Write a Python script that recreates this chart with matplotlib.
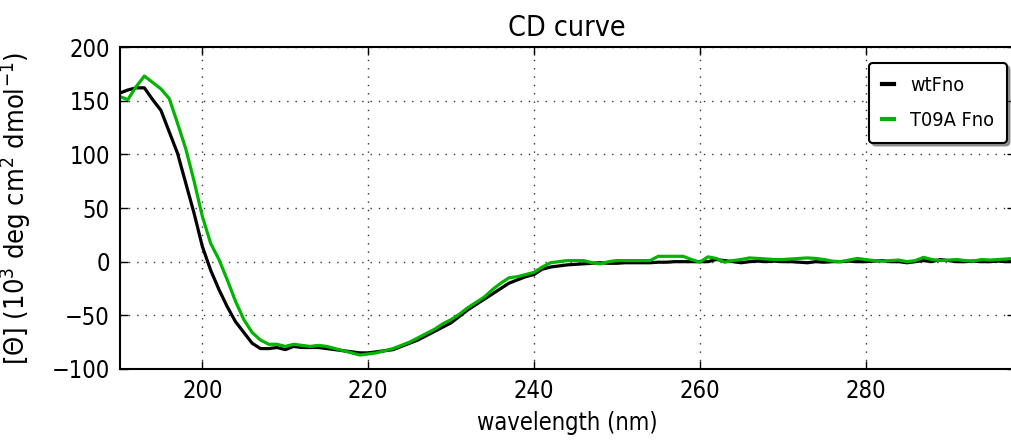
import matplotlib
matplotlib.use("Agg")
import matplotlib.pyplot as plt

# CD spectra (1 nm steps)
wavelength = list(range(190, 299))

wt_fno = [157, 160, 162, 162, 151, 141, 121, 101, 73, 45,
          14, -8, -26, -42, -56, -66, -76, -81, -81, -80,
          -82, -79, -80, -80, -80, -81, -82, -83, -84, -85,
          -85, -84, -83, -82, -79, -76, -73, -69, -65, -61,
          -57, -51, -45, -40, -35, -30, -25, -20, -17, -14,
          -12, -7, -5, -4, -3, -2.5, -2, -1.5, -1, -1.5,
          -1.5, -1, -1, -1, -1, -0.5, -0.5, 0, 0, 0,
          0, 0, 2, 1, 0, -1, 0, 0.5, 0, 0.5,
          0, 0, -0.5, -1, 0, -0.5, 0, 0, 0.5, 0,
          0, 0.5, 1, 0, 0, -1, 0, 1, 0, 2,
          1, 0, 0, 0.5, 0, 0, 0.5, 0, 0.5]

t09a_fno = [154, 151, 163, 173, 167, 161, 152, 129, 105, 75,
            42, 17, 2, -17, -37, -54, -66, -73, -77, -77,
            -79, -77, -78, -79, -78, -79, -81, -83, -85, -87,
            -86, -85, -83, -81, -78, -75, -71, -67, -63, -58,
            -54, -49, -43, -38, -33, -26, -20, -15, -14, -12,
            -10, -5, -1, 0, 1, 1, 1, -1, -2, 0,
            1, 1, 1, 1, 1, 5, 5, 5, 5, 2,
            -0.5, 4.5, 3, -0.5, 1, 2, 3.5, 3, 2.5, 2,
            2, 2.5, 3, 3.5, 3, 2, 0.5, 0, 1.5, 3,
            2, 1, 0.5, 1, 1.5, 0, 1, 4, 2, 1,
            1.5, 2, 1, 0.5, 2, 1.5, 2, 2.5, 3]

plt.rcParams['font.family'] = ['DejaVu Sans']
plt.rcParams['font.stretch'] = 'condensed'
plt.rcParams['mathtext.fontset'] = 'dejavusans'

fig = plt.figure(figsize=(10.11, 4.44), dpi=100)
ax = fig.add_axes([0.1182, 0.169, 0.8855, 0.725])

ax.plot(wavelength, wt_fno, color='black', lw=2.3, label='wtFno')
ax.plot(wavelength, t09a_fno, color='#00b400', lw=2.3, label='T09A Fno')

ax.set_xlim(190, 298)
ax.set_ylim(-100, 200)
ax.set_xticks([200, 220, 240, 260, 280])
ax.set_yticks([-100, -50, 0, 50, 100, 150, 200])

ax.grid(True, linestyle=(0, (1, 5)), color='#333333', linewidth=1)
ax.tick_params(direction='in', length=6, width=1, labelsize=17,
               top=True, right=True, pad=7)
for sp in ax.spines.values():
    sp.set_linewidth(1.5)

ax.set_title('CD curve', fontsize=20.5, pad=8)
ax.set_xlabel('wavelength (nm)', fontsize=17, va='top')
ax.set_ylabel(r'[Θ] (10$^3$ deg cm$^2$ dmol$^{-1}$)', fontsize=19.5)
ax.xaxis.set_label_coords(0.5, -0.13)
ax.yaxis.set_label_coords(-0.097, 0.5)

leg = ax.legend(loc='upper right', bbox_to_anchor=(1.0, 0.975),
                fontsize=14.3, fancybox=True, shadow=True,
                handlelength=0.6, handletextpad=0.8, borderaxespad=0.4,
                borderpad=0.65, labelspacing=0.8,
                framealpha=1, edgecolor='black')
leg.get_frame().set_linewidth(1.5)
for line in leg.get_lines():
    line.set_linewidth(3)

fig.savefig('out.png', dpi=100)
